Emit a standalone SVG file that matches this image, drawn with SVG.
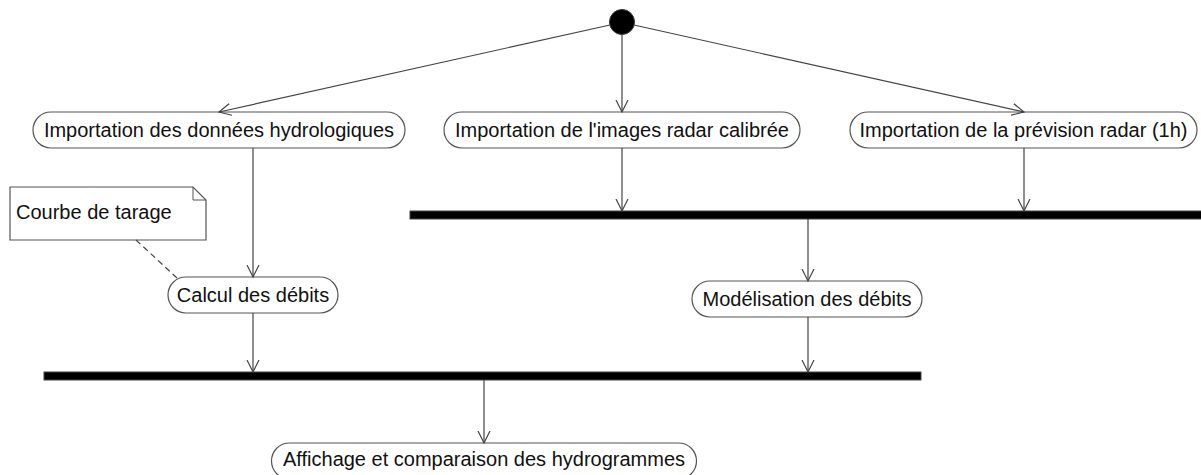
<svg xmlns="http://www.w3.org/2000/svg" width="1201" height="475" viewBox="0 0 1201 475">
<style>
.node rect{fill:#fff;stroke:#555;stroke-width:1.2}
.node text,.note text{font-family:"Liberation Sans",Arial,sans-serif;font-size:20px;fill:#111;text-anchor:middle}
.note text{text-anchor:start}
.bar{fill:#000;stroke:#444;stroke-width:1}
.conn line{stroke:#444;stroke-width:1.2;fill:none}
.arr{marker-end:url(#v)}
.dash{stroke-dasharray:6 4}
</style>
<defs>
<marker id="v" markerWidth="14" markerHeight="14" refX="12" refY="7" orient="auto" markerUnits="userSpaceOnUse">
<path d="M0,1 L12,7 L0,13" fill="none" stroke="#444" stroke-width="1.2"/>
</marker>
</defs>
<g id="start"><circle cx="622" cy="22" r="12.5" fill="#000" stroke="#333"/></g>
<g id="n1" class="node"><rect x="33" y="112" width="372" height="36" rx="18"/><text x="219" y="136.5">Importation des données hydrologiques</text></g>
<g id="n2" class="node"><rect x="444" y="112" width="356" height="36" rx="18"/><text x="622" y="136.5">Importation de l'images radar calibrée</text></g>
<g id="n3" class="node"><rect x="850" y="112" width="347" height="36" rx="18"/><text x="1023.5" y="136.5">Importation de la prévision radar (1h)</text></g>
<g id="fork1"><rect class="bar" x="410" y="211" width="795" height="8"/></g>
<g id="note"><g class="note"><path d="M10,187 H193 L206,200 V240 H10 Z" fill="#fff" stroke="#555" stroke-width="1.2"/><path d="M193,187 V200 H206" fill="none" stroke="#555" stroke-width="1"/><text x="16" y="219">Courbe de tarage</text></g></g>
<g id="n4" class="node"><rect x="168" y="277" width="170" height="36" rx="18"/><text x="253" y="301.5">Calcul des débits</text></g>
<g id="n5" class="node"><rect x="692" y="281" width="230" height="36" rx="18"/><text x="807" y="305.5">Modélisation des débits</text></g>
<g id="join"><rect class="bar" x="44" y="372" width="877" height="8"/></g>
<g id="n6" class="node"><rect x="271.5" y="443" width="425" height="36" rx="18"/><text x="484" y="466">Affichage et comparaison des hydrogrammes</text></g>
<g id="connectors" class="conn">
<line class="arr" x1="610" y1="25" x2="219" y2="112"/>
<line class="arr" x1="622" y1="34" x2="622" y2="112"/>
<line class="arr" x1="634" y1="25" x2="1024" y2="112"/>
<line class="arr" x1="622" y1="148" x2="622" y2="211"/>
<line class="arr" x1="1024" y1="148" x2="1024" y2="211"/>
<line class="arr" x1="253" y1="148" x2="253" y2="277"/>
<line class="dash" x1="136" y1="240" x2="177" y2="278"/>
<line class="arr" x1="808" y1="219" x2="808" y2="281"/>
<line class="arr" x1="253" y1="313" x2="253" y2="372"/>
<line class="arr" x1="808" y1="317" x2="808" y2="372"/>
<line class="arr" x1="484" y1="380" x2="484" y2="443"/>
</g>
</svg>
